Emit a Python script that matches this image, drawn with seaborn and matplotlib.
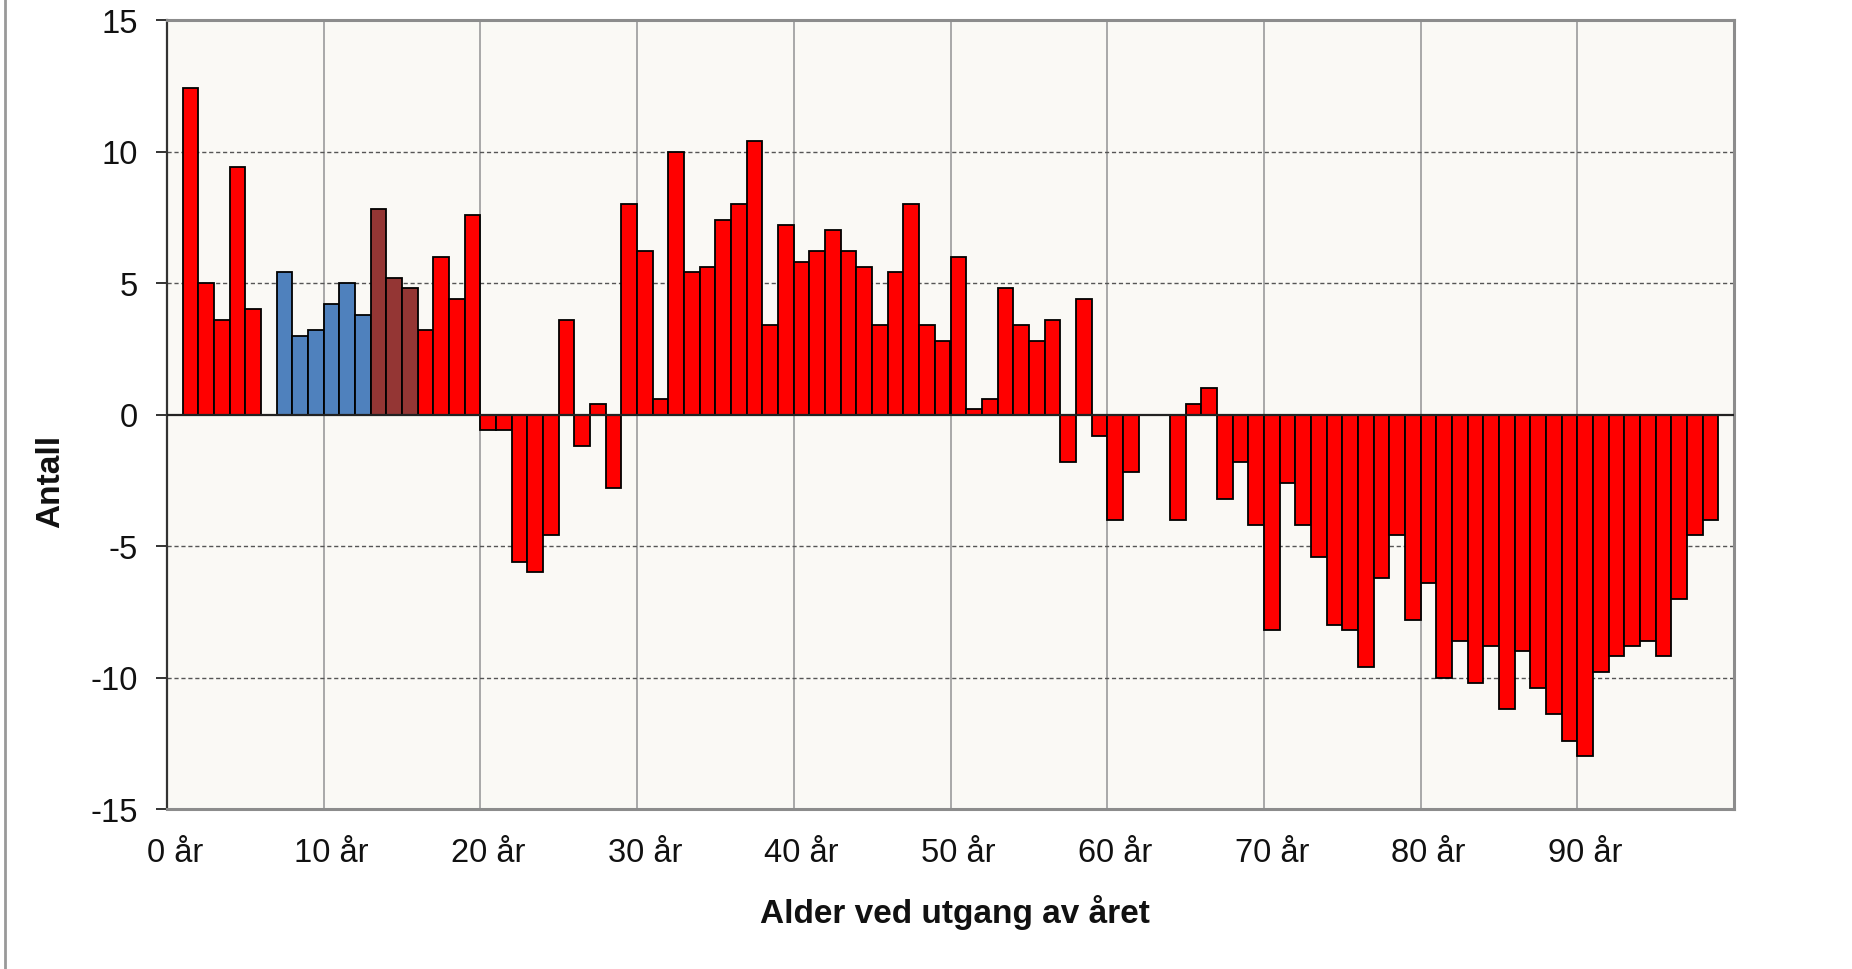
import numpy as np
import pandas as pd
import matplotlib
matplotlib.use('Agg')
import matplotlib.pyplot as plt
import seaborn as sns
from matplotlib.lines import Line2D
from matplotlib.ticker import FixedLocator

# Alder (kategorier 0-99) og antall
alder = list(range(100))
antall = [np.nan, 12.4, 5.0, 3.6, 9.4, 4.0, np.nan, 5.4, 3.0, 3.2,
          4.2, 5.0, 3.8, 7.8, 5.2, 4.8, 3.2, 6.0, 4.4, 7.6,
          -0.6, -0.6, -5.6, -6.0, -4.6, 3.6, -1.2, 0.4, -2.8, 8.0,
          6.2, 0.6, 10.0, 5.4, 5.6, 7.4, 8.0, 10.4, 3.4, 7.2,
          5.8, 6.2, 7.0, 6.2, 5.6, 3.4, 5.4, 8.0, 3.4, 2.8,
          6.0, 0.2, 0.6, 4.8, 3.4, 2.8, 3.6, -1.8, 4.4, -0.8,
          -4.0, -2.2, np.nan, np.nan, -4.0, 0.4, 1.0, -3.2, -1.8, -4.2,
          -8.2, -2.6, -4.2, -5.4, -8.0, -8.2, -9.6, -6.2, -4.6, -7.8,
          -6.4, -10.0, -8.6, -10.2, -8.8, -11.2, -9.0, -10.4, -11.4, -12.4,
          -13.0, -9.8, -9.2, -8.8, -8.6, -9.2, -7.0, -4.6, -4.0, np.nan]

# Fargegrupper
alder_barneskole = [7, 8, 9, 10, 11, 12]
alder_ungdomsskole = [13, 14, 15]
farger = {'barneskole': '#4F81BD', 'ungdomsskole': '#943634', 'annet': '#FF0000'}

x_etiketter = [f'{a} år' for a in range(0, 100, 10)]

gruppe = ['barneskole' if a in alder_barneskole else
          'ungdomsskole' if a in alder_ungdomsskole else 'annet' for a in alder]
df = pd.DataFrame({'alder': alder, 'antall': antall, 'gruppe': gruppe})

sns.set_style('white')
plt.rcParams['font.family'] = ['Liberation Sans', 'DejaVu Sans']
plt.rcParams['axes.unicode_minus'] = False

fig = plt.figure(figsize=(18.52, 9.70), dpi=100)
ax = fig.add_axes([167 / 1852, 1 - 810 / 970, (1734 - 167) / 1852, (810 - 21) / 970])
ax.set_facecolor('#FAF9F5')

sns.barplot(data=df, x='alder', y='antall', hue='gruppe', palette=farger,
            order=alder, dodge=False, width=1.0, edgecolor='black', saturation=1,
            linewidth=1.3, errorbar=None, legend=False, ax=ax, zorder=3)

ax.set_xlim(-0.5, 99.5)
ax.set_ylim(-15, 15)

# Rutenett
for y in [-10, -5, 5, 10]:
    ax.axhline(y, color='#555555', linewidth=1.0, linestyle=(0, (3, 2)), zorder=1)
ax.axhline(0, color='#222222', linewidth=1.6, zorder=4)
ax.xaxis.set_minor_locator(FixedLocator([9.5 + 10 * i for i in range(9)]))
ax.grid(True, which='minor', axis='x', color='#A8A8A8', linewidth=1.4, zorder=1)
ax.grid(False, which='major')

ax.set_xticks(range(0, 100, 10))
ax.set_xticklabels(x_etiketter)
ax.set_yticks(range(-15, 16, 5))
ax.tick_params(axis='x', which='both', length=0, pad=20, labelsize=23.5, labelcolor='#111111')
ax.tick_params(axis='y', length=8, width=1.4, color='#333333', pad=13,
               labelsize=23.5, labelcolor='#111111', left=True)

ax.set_xlabel('Alder ved utgang av året', fontsize=24, fontweight='bold', color='#111111')
ax.set_ylabel('Antall', fontsize=24, fontweight='bold', color='#111111')
ax.xaxis.label.set_va('center')
ax.yaxis.label.set_va('center')
ax.xaxis.set_label_coords(0.503, -0.1305)
ax.yaxis.set_label_coords(-0.074, 0.416)

for side in ['top', 'right', 'bottom']:
    ax.spines[side].set_color('#8C8C8C')
    ax.spines[side].set_linewidth(2.2)
ax.spines['left'].set_color('#333333')
ax.spines['left'].set_linewidth(1.6)

# Ramme til venstre
fig.add_artist(Line2D([5 / 1852, 5 / 1852], [0, 1], color='#999999', linewidth=2))

fig.savefig('out.png', dpi=100, facecolor='white')
